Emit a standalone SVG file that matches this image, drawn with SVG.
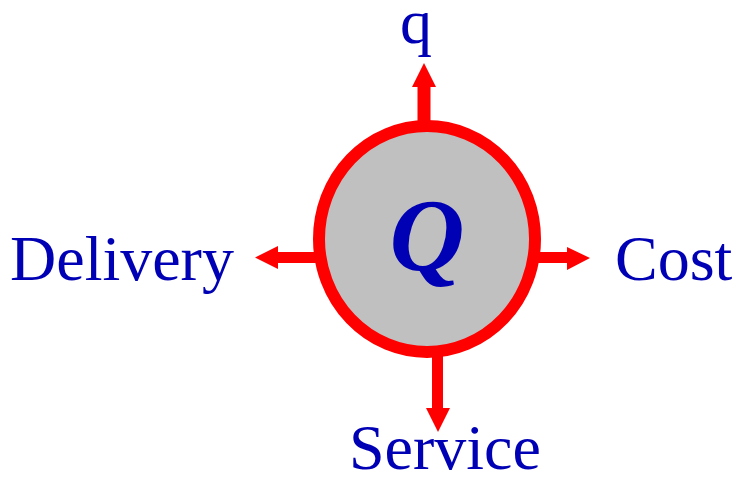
<svg xmlns="http://www.w3.org/2000/svg" width="736" height="478" viewBox="0 0 736 478">
<style>
.lbl{font-family:"Liberation Serif","Times New Roman",serif;font-size:64px;fill:#0000b4}
.arr{fill:#ff0000}
</style>
<rect width="736" height="478" fill="#ffffff"/>
<g id="connectors">
<path class="arr" d="M417.5,122 V87 H412 L424,63 L436,87 H430.5 V122 Z"/>
<path class="arr" d="M316,252 H278 V246 L255,257.5 L278,269 V263 H316 Z"/>
<path class="arr" d="M538,252 H567 V247 L590,258 L567,270 V263 H538 Z"/>
<path class="arr" d="M432,355 V408 H426 L438,432 L450,408 H443 V355 Z"/>
</g>
<g id="center">
<ellipse cx="427" cy="239" rx="108" ry="113" fill="#c0c0c0" stroke="#ff0000" stroke-width="12"/>
<text x="427" y="270" text-anchor="middle" font-family="Liberation Serif,serif" font-size="104" font-weight="bold" font-style="italic" fill="#0000b4">Q</text>
</g>
<g id="q"><text class="lbl" x="416" y="43" text-anchor="middle">q</text></g>
<g id="delivery"><text class="lbl" x="10" y="280">Delivery</text></g>
<g id="cost"><text class="lbl" x="615" y="280">Cost</text></g>
<g id="service"><text class="lbl" x="349" y="469">Service</text></g>
</svg>
